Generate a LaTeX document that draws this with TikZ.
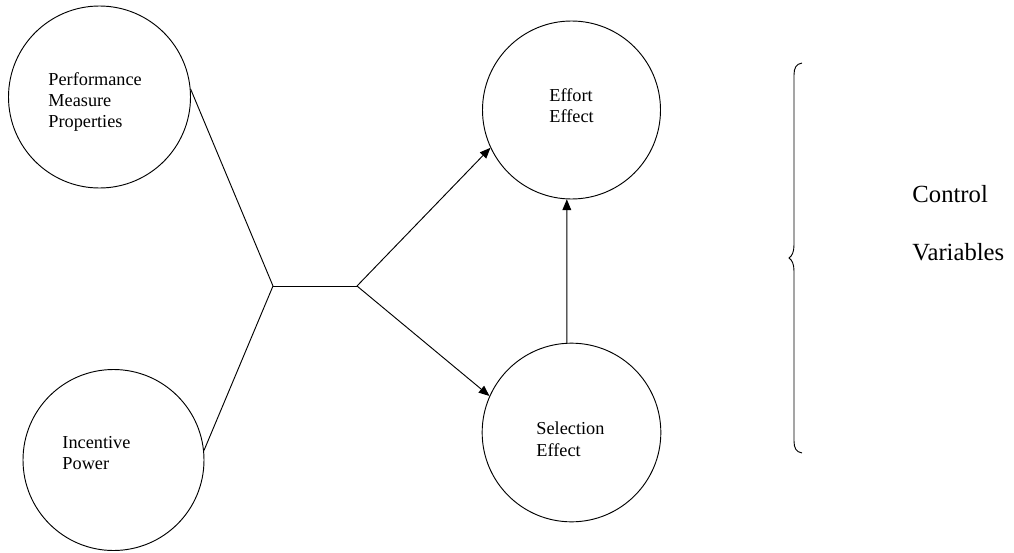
\documentclass[tikz,border=0pt]{standalone}
\usepackage{fontspec}
\setmainfont{Liberation Serif}
\usetikzlibrary{arrows.meta}
\begin{document}
\begin{tikzpicture}[x=0.75pt,y=-0.75pt,
  every path/.style={line width=0.7pt},
  circ/.style={draw, circle, inner sep=0pt},
  lbl/.style={anchor=base west, inner sep=0pt, font=\fontsize{13.7}{16}\selectfont},
  big/.style={anchor=base west, inner sep=0pt, font=\fontsize{18.5}{22}\selectfont},
  arr/.style={-{Triangle[length=8pt,width=6.5pt]}}]
\useasboundingbox (0,0) rectangle (1014,553);
% circles
\node[circ, minimum size=136.5pt] (perf) at (99.5,97) {};
\node[circ, minimum size=135.75pt] (inc) at (113.5,460) {};
\node[circ, minimum size=133.5pt] (eff) at (571.5,110) {};
\node[circ, minimum size=134pt] (sel) at (571.5,432.5) {};
% labels
\node[lbl] (p1) at (48,85) {Performance};
\node[lbl] (p2) at (48,106) {Measure};
\node[lbl] (p3) at (48,127) {Properties};
\node[lbl] (i1) at (62,448) {Incentive};
\node[lbl] (i2) at (62,469) {Power};
\node[lbl] (e1) at (549,101) {Effort};
\node[lbl] (e2) at (549,122) {Effect};
\node[lbl] (s1) at (536,434) {Selection};
\node[lbl] (s2) at (536,456) {Effect};
\node[big] (c1) at (912,202) {Control};
\node[big] (c2) at (912,260) {Variables};
% connectors
\coordinate (j) at (273,286);
\coordinate (k) at (357,286);
\draw (perf.5) -- (j);
\draw (inc.6) -- (j);
\draw (j) -- (k);
\draw[arr] (k) -- (eff.205);
\draw[arr] (k) -- (sel.156);
\draw[arr] (sel.93) -- (eff.267);
% brace
\draw (802,63) .. controls (796,64) and (794,68) .. (794,75) -- (794,245)
  .. controls (794,252) and (792,256) .. (789,258)
  .. controls (792,260) and (794,264) .. (794,271) -- (794,441)
  .. controls (794,448) and (796,452) .. (802,453);
\end{tikzpicture}
\end{document}
